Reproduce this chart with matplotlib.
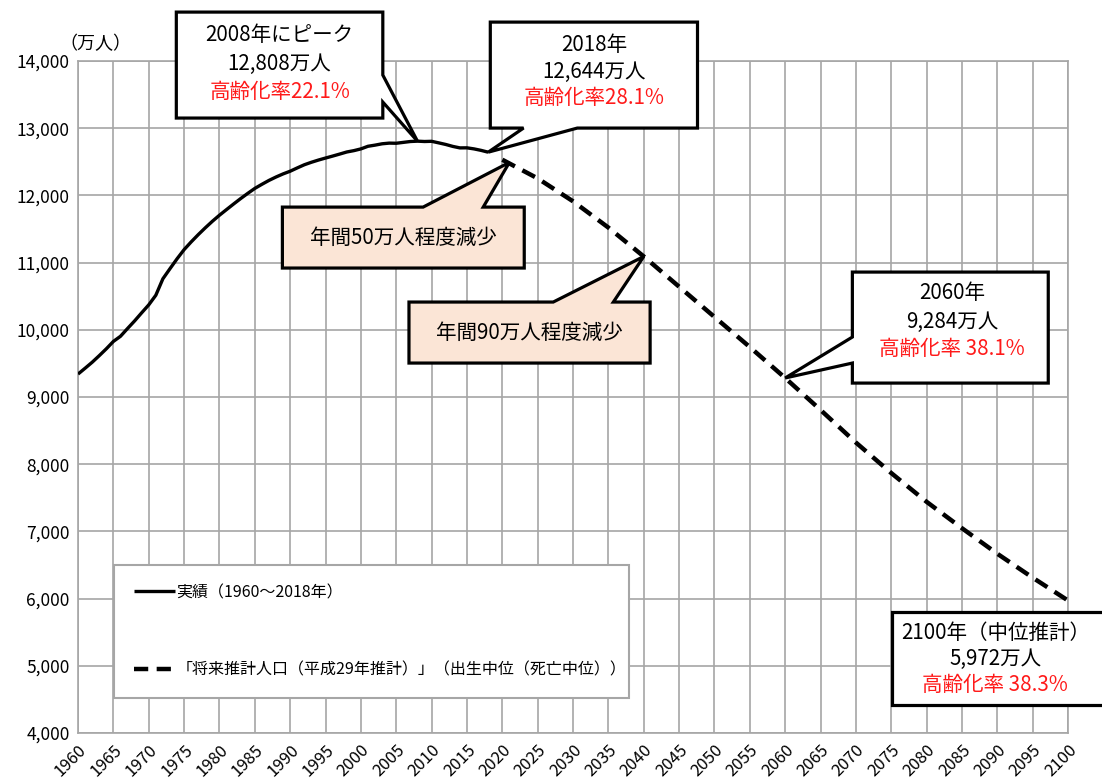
import numpy as np
import matplotlib
matplotlib.use("Agg")
import matplotlib.pyplot as plt
import matplotlib.transforms as mtransforms
from matplotlib.patches import Polygon

plt.rcParams['font.family'] = ['Noto Sans CJK JP', 'DejaVu Sans']

# =========================================================
# データ（万人）
# =========================================================
actual_years = list(range(1960, 2019))
actual_pop = [9342, 9429, 9518, 9616, 9718, 9828, 9904, 10020, 10133, 10254,
              10372, 10515, 10760, 10910, 11057, 11194, 11309, 11417, 11519, 11616,
              11706, 11790, 11873, 11954, 12031, 12105, 12166, 12224, 12275, 12321,
              12361, 12410, 12457, 12494, 12527, 12557, 12586, 12616, 12647, 12667,
              12693, 12732, 12749, 12769, 12779, 12777, 12790, 12803, 12808, 12803,
              12806, 12783, 12759, 12730, 12708, 12709, 12693, 12671, 12644]

proj_years = [2020, 2025, 2030, 2035, 2040, 2045, 2050, 2055, 2060,
              2065, 2070, 2075, 2080, 2085, 2090, 2095, 2100]
proj_pop = [12532, 12254, 11913, 11522, 11092, 10642, 10192, 9744, 9284,
            8808, 8323, 7869, 7441, 7048, 6668, 6312, 5972]

x_ticks = list(range(1960, 2101, 5))
y_ticks = list(range(4000, 14001, 1000))

label_actual = "実績（1960〜2018年）"
label_proj = "「将来推計人口（平成29年推計）」（出生中位（死亡中位））"

PEACH = "#FBE5D6"
RED = "#FF1A1A"
GRID = "#A6A6A6"


def callout(ax, x0, x1, y0, y1, side=None, b1=None, b2=None, tip=None, fc="white"):
    """吹き出し（矩形＋くさび）を1つのポリゴンで描く"""
    if side == "bottom":
        v = [(x0, y0), (b1, y0), tip, (b2, y0), (x1, y0), (x1, y1), (x0, y1)]
    elif side == "top":
        v = [(x0, y0), (x1, y0), (x1, y1), (b2, y1), tip, (b1, y1), (x0, y1)]
    elif side == "right":
        v = [(x0, y0), (x1, y0), (x1, b1), tip, (x1, b2), (x1, y1), (x0, y1)]
    elif side == "left":
        v = [(x0, y0), (x1, y0), (x1, y1), (x0, y1), (x0, b2), tip, (x0, b1)]
    else:
        v = [(x0, y0), (x1, y0), (x1, y1), (x0, y1)]
    p = Polygon(v, closed=True, facecolor=fc, edgecolor="black", lw=2.3,
                joinstyle="miter", clip_on=False, zorder=5)
    ax.add_patch(p)


def box_lines(ax, xc, y0, y1, lines, fracs, size=14.8):
    h = y1 - y0
    for (txt, col), f in zip(lines, fracs):
        ax.text(xc, y1 - h * f, txt, color=col, fontsize=size, ha="center",
                va="center", zorder=6, clip_on=False)


fig = plt.figure(figsize=(11.02, 7.83), dpi=100)
ax = fig.add_axes([0.0708, 0.0638, 0.8984, 0.8582])

ax.plot(actual_years, actual_pop, color="black", lw=2.4, solid_capstyle="butt",
        label=label_actual, zorder=3)
ax.plot(proj_years, proj_pop, color="black", lw=3.2, dashes=(3.2, 1.9),
        dash_capstyle="butt", label=label_proj, zorder=3)

ax.set_xlim(1960, 2100)
ax.set_ylim(4000, 14000)
ax.set_xticks(x_ticks)
ax.set_yticks(y_ticks)
ax.set_yticklabels([f"{v:,}" for v in y_ticks], fontsize=12.5)
ax.set_xticklabels([str(v) for v in x_ticks], fontsize=12, rotation=45,
                   ha="right", rotation_mode="anchor")
offset = mtransforms.ScaledTranslation(9 / 100, -4 / 100, fig.dpi_scale_trans)
for lbl in ax.get_xticklabels():
    lbl.set_transform(lbl.get_transform() + offset)
ax.tick_params(length=0, pad=6)
ax.grid(True, color=GRID, lw=1.2)
ax.set_axisbelow(True)
for s in ax.spines.values():
    s.set_color(GRID)
    s.set_linewidth(1.2)

ax.text(0.018, 1.012, "（万人）", transform=ax.transAxes, ha="center",
        va="bottom", fontsize=13)

# 2008年ピーク
i08 = actual_years.index(2008)
callout(ax, 1973.9, 2003.1, 13152, 14729, "right", 13390, 13792,
        (actual_years[i08], actual_pop[i08]))
box_lines(ax, 1988.5, 13152, 14729,
          [("2008年にピーク", "black"), (f"{actual_pop[i08]:,}万人", "black"),
           ("高齢化率22.1%", RED)], [0.22, 0.49, 0.75])

# 2018年
callout(ax, 2018.3, 2047.6, 13003, 14580, "bottom", 2023.0, 2030.6,
        (actual_years[-1], actual_pop[-1]))
box_lines(ax, 2033.0, 13003, 14580,
          [("2018年", "black"), (f"{actual_pop[-1]:,}万人", "black"),
           ("高齢化率28.1%", RED)], [0.22, 0.47, 0.72])

# 年間50万人程度減少
callout(ax, 1988.9, 2023.1, 10920, 11827, "top", 2008.8, 2017.3,
        (proj_years[0] + 1, proj_pop[0] - 40), fc=PEACH)
box_lines(ax, 2006.0, 10920, 11827, [("年間50万人程度減少", "black")], [0.5])

# 年間90万人程度減少
i40 = proj_years.index(2040)
callout(ax, 2006.8, 2040.9, 9506, 10414, "top", 2027.2, 2035.7,
        (proj_years[i40], proj_pop[i40]), fc=PEACH)
box_lines(ax, 2023.8, 9506, 10414, [("年間90万人程度減少", "black")], [0.5])

# 2060年
i60 = proj_years.index(2060)
callout(ax, 2069.5, 2097.2, 9208, 10860, "left", 9506, 9893,
        (proj_years[i60], proj_pop[i60]))
box_lines(ax, 2083.6, 9208, 10860,
          [("2060年", "black"), (f"{proj_pop[i60]:,}万人", "black"),
           ("高齢化率 38.1%", RED)], [0.19, 0.45, 0.69])

# 2100年
callout(ax, 2075.1, 2107.0, 4417, 5800)
box_lines(ax, 2089.7, 4417, 5800,
          [("2100年（中位推計）", "black"), (f"{proj_pop[-1]:,}万人", "black"),
           ("高齢化率 38.3%", RED)], [0.22, 0.5, 0.78])

leg = ax.legend(loc="lower left", bbox_to_anchor=(0.0283, 0.040, 0.536, 0.196),
                mode="expand", fontsize=11.5, borderpad=1.22, labelspacing=3.8,
                handlelength=2.6, handletextpad=0.1, fancybox=False,
                framealpha=1, edgecolor=GRID)
leg.get_frame().set_linewidth(1.5)
leg.set_zorder(4)

fig.savefig("out.png", dpi=100, facecolor="white")
